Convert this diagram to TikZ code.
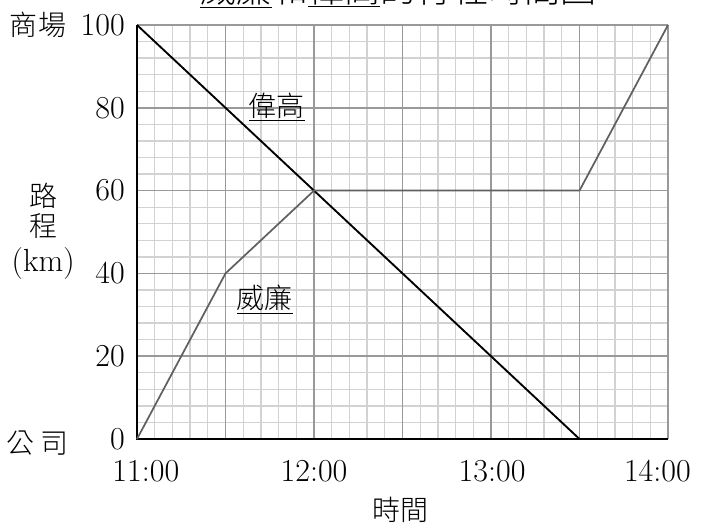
\documentclass[tikz,border=0pt]{standalone}
\usepackage{fontspec}
\newfontfamily\cjk[UprightFont={* Light}]{Noto Sans CJK TC}
\usetikzlibrary{positioning}

\begin{document}
\begin{tikzpicture}[
  x=132.75pt, y=3.105pt,
  gridminor/.style={gray!35, line width=1pt},
  gridmajor/.style={gray!80, line width=1.1pt},
  axisline/.style={black, line width=1.9pt, line join=miter},
  ticklab/.style={font=\fontsize{24}{28}\selectfont, inner sep=1pt},
  lab/.style={font=\cjk\fontsize{21}{24}\selectfont, inner sep=0pt},
  weiline/.style={black, line width=1.4pt},
  willline/.style={gray!75!black, line width=1.3pt}
]
\useasboundingbox (-0.774,-21.01) rectangle (3.2203,106.04);

% grid
\foreach \i in {1,...,29} \draw[gridminor] (\i/10,0) -- (\i/10,100);
\foreach \j in {1,...,24} \draw[gridminor] (0,\j*4) -- (3,\j*4);
\foreach \i in {0.5,1,...,3} \draw[gridmajor] (\i,0) -- (\i,100);
\foreach \j in {20,40,...,100} \draw[gridmajor] (0,\j) -- (3,\j);
\draw[axisline] (0,100) -- (0,0) -- (3,0);

% ticks
\foreach \v in {0,20,...,100} \node[ticklab, anchor=east] (y\v) at (-0.06,\v) {\v};
\foreach \h/\p in {11/0.05, 12/1, 13/2.006, 14/2.94} \node[ticklab] (t\h) at (\p,-7.7) {\h:00};

% axis labels
\node[lab] (mall) at (-0.56,100) {商\hspace{1pt}場};
\node[lab] (office) at (-0.562,-1) {公\hspace{4pt}司};
\node[lab] (lu) at (-0.53,58.7) {路};
\node[lab, below=3pt of lu] (cheng) {程};
\node[ticklab, below=6pt of cheng] (km) {(km)};
\node[lab] (time) at (1.486,-17.1) {時間};

% journeys
\coordinate (w0) at (0,100);
\coordinate (w1) at (2.5,0);
\draw[weiline] (w0) -- (w1);
\coordinate (l0) at (0,0);
\coordinate (l1) at (0.5,40);
\coordinate (l2) at (1,60);
\coordinate (l3) at (2.5,60);
\coordinate (l4) at (3,100);
\draw[willline] (l0) -- (l1) -- (l2) -- (l3) -- (l4);

\node[lab] (weilab) at (0.79,80.2) {\underline{偉高}};
\node[lab] (willab) at (0.723,33.7) {\underline{威廉}};

% title, cut by the page edge
\node[lab, font=\cjk\fontsize{27}{30}\selectfont, anchor=south] (title) at (1.475,104.1) {\underline{威廉}和\underline{偉高}的行程時間圖};

\end{tikzpicture}
\end{document}
